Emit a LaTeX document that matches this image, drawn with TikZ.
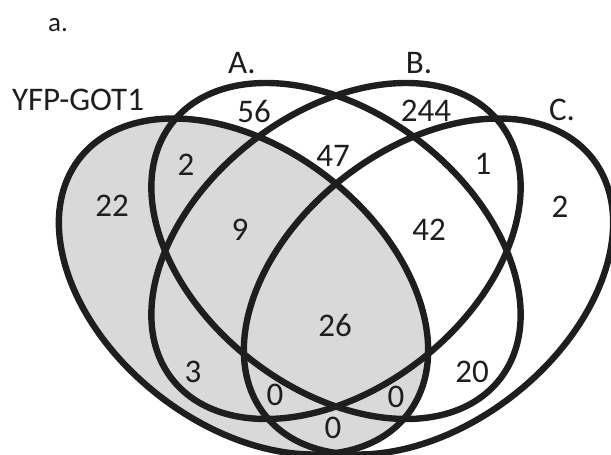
\documentclass[tikz,border=0pt]{standalone}
\usepackage{fontspec}
\setmainfont{Carlito}
\usepackage{tikz}
\usetikzlibrary{positioning}

\definecolor{setgrey}{RGB}{217,217,217}
\definecolor{ink}{RGB}{30,30,30}

\begin{document}
\begin{tikzpicture}[x=0.5pt,y=0.5pt,every node/.style={font=\fontsize{16.5}{18}\selectfont,text=ink}]
        \useasboundingbox (0,0) rectangle (611,455);
        \clip (0,0) rectangle (611,455);

        % YFP-GOT1 is the shaded set
        \fill[setgrey] (243.5,168.5) ellipse [x radius=208, y radius=138, rotate=-38];

        % YFP-GOT1, A, B, C
        \foreach \cx / \cy / \r in {243.5/168.5/-38, 336/204/-38, 336/204/38, 428.5/168.5/38}
        \draw[ink, line width=3.2pt] (\cx,\cy) ellipse [x radius=208, y radius=138, rotate=\r];

        \node[font=\fontsize{13.5}{15}\selectfont] at (58,430) (panel) {a.};
        \node at (78,355) (yfp) {YFP-GOT1};
        \node at (242,392) (seta) {A.};
        \node at (419,392) (setb) {B.};
        \node at (562,345) (setc) {C.};

        % counts per region
        \node at (112,249) (yOnly) {22};
        \node at (254,344) (aOnly) {56};
        \node at (426,344) (bOnly) {244};
        \node at (560,248) (cOnly) {2};
        \node at (186,290) (ya) {2};
        \node at (333,299) (ab) {47};
        \node at (483,291) (bc) {1};
        \node at (240,225) (yab) {9};
        \node at (429,225) (abc) {42};
        \node at (335,130) (yabc) {26};
        \node at (193,83) (yb) {3};
        \node at (472,83) (ac) {20};
        \node at (275,60) (ybc) {0};
        \node at (396,58) (yac) {0};
        \node at (333,27) (yc) {0};
\end{tikzpicture}
\end{document}
